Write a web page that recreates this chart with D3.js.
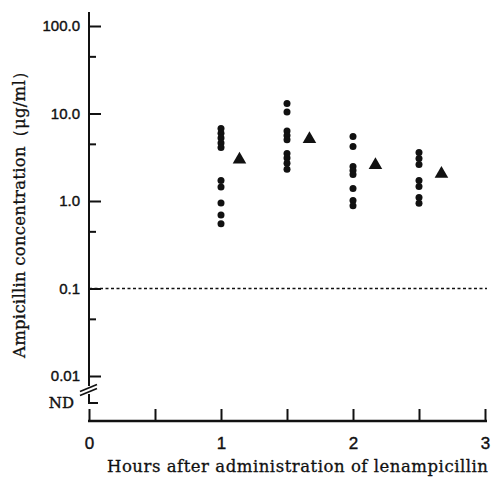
<!DOCTYPE html>
<html>
<head>
<meta charset="utf-8">
<script src="https://cdn.jsdelivr.net/npm/d3@7"></script>
<style>
  body { margin: 0; background: #fff; }
  svg { display: block; font-family: 'DejaVu Serif', 'Liberation Serif', serif; }
  .tick text { font-size: 15px; fill: #111; stroke: #111; stroke-width: 0.4; }
  .tick line { stroke: #111; stroke-width: 2; }
  .title { font-size: 16.5px; fill: #111; stroke: #111; stroke-width: 0.3; }
</style>
</head>
<body>
<div id="root"></div>
<script>
const sampleHours = [1, 1.5, 2, 2.5];
const concentrations = [
  [6.74, 5.94, 5.25, 4.61, 4.08, 1.72, 1.45, 0.95, 0.69, 0.55],
  [13.0, 10.4, 6.3, 5.6, 5.0, 3.5, 3.1, 2.7, 2.3],
  [5.46, 4.2, 2.48, 2.23, 2.01, 1.39, 1.01, 0.88],
  [3.58, 3.06, 2.61, 1.72, 1.46, 1.10, 0.94],
];
const meanHours = [1.14, 1.67, 2.17, 2.67];
const meanValues = [2.98, 5.1, 2.58, 2.04];

const yTickValues = [100, 10, 1, 0.1, 0.01];
const yTickLabels = ['100.0', '10.0', '1.0', '0.1', '0.01'];
const yMinorTicks = [45, 4.5, 0.45, 0.045];
const xTickValues = [0, 0.5, 1, 1.5, 2, 2.5, 3];
const detectionLimit = 0.1;
const ndLabel = 'ND';

const yTitle = 'Ampicillin concentration（μg/ml）';
const xTitle = 'Hours after administration of lenampicillin';

const svgWidth = 499;
const svgHeight = 490;
const axisX = 89;
const axisY = 421;

const xScale = d3.scaleLinear()
  .domain([0, 3])
  .range([axisX, 485]);

const yScale = d3.scaleLog()
  .domain([0.01, 100])
  .range([376, 26]);

const ndY = 403;

const points = [];
sampleHours.forEach((h, i) => {
  concentrations[i].forEach(v => points.push({ hour: h, value: v }));
});
const means = meanHours.map((h, i) => ({ hour: h, value: meanValues[i] }));

const svg = d3.select('#root').append('svg')
  .attr('width', svgWidth)
  .attr('height', svgHeight);

// y axis ticks (pointing inward), labels on the left
svg.append('g')
  .attr('transform', `translate(${axisX}, 0)`)
  .call(d3.axisLeft(yScale)
    .tickValues(yTickValues)
    .tickSizeInner(-12)
    .tickSizeOuter(0)
    .tickPadding(9)
    .tickFormat((d, i) => yTickLabels[i]))
  .call(g => g.select('.domain').remove());

svg.append('g')
  .attr('transform', `translate(${axisX}, 0)`)
  .call(d3.axisLeft(yScale)
    .tickValues(yMinorTicks)
    .tickSizeInner(-7)
    .tickSizeOuter(0)
    .tickFormat(''))
  .call(g => g.select('.domain').remove());

// ND tick below the break
const nd = svg.append('g').attr('class', 'tick');
nd.append('line')
  .attr('x1', axisX).attr('x2', axisX + 9)
  .attr('y1', ndY).attr('y2', ndY);
nd.append('text')
  .attr('x', axisX - 15)
  .attr('y', ndY)
  .attr('dy', '0.32em')
  .attr('text-anchor', 'end')
  .text(ndLabel);

// y axis line with break
const breakTop = 386;
const breakBottom = 394;
svg.append('line')
  .attr('x1', axisX).attr('x2', axisX)
  .attr('y1', 12).attr('y2', breakTop)
  .attr('stroke', '#111').attr('stroke-width', 2);
svg.append('line')
  .attr('x1', axisX).attr('x2', axisX)
  .attr('y1', breakBottom).attr('y2', ndY + 1)
  .attr('stroke', '#111').attr('stroke-width', 2);
[388, 392].forEach(cy => {
  svg.append('line')
    .attr('x1', axisX - 9).attr('y1', cy + 3.5)
    .attr('x2', axisX + 8).attr('y2', cy - 3.5)
    .attr('stroke', '#111').attr('stroke-width', 1.8);
});

// x axis
svg.append('g')
  .attr('transform', `translate(0, ${axisY})`)
  .call(d3.axisBottom(xScale)
    .tickValues(xTickValues)
    .tickSizeInner(-12)
    .tickSizeOuter(0)
    .tickPadding(16)
    .tickFormat(d => Number.isInteger(d) ? d : ''))
  .call(g => g.select('.domain').remove())
  .call(g => g.selectAll('.tick text').style('font-size', '17px'));

svg.append('line')
  .attr('x1', axisX - 1).attr('x2', 487)
  .attr('y1', axisY).attr('y2', axisY)
  .attr('stroke', '#111').attr('stroke-width', 2.5);

// detection limit
svg.append('line')
  .attr('x1', axisX).attr('x2', 487)
  .attr('y1', yScale(detectionLimit)).attr('y2', yScale(detectionLimit))
  .attr('stroke', '#111')
  .attr('stroke-width', 1.3)
  .attr('stroke-dasharray', '3,2.5');

// individual values
svg.append('g')
  .selectAll('circle')
  .data(points)
  .enter()
  .append('circle')
  .attr('cx', d => xScale(d.hour))
  .attr('cy', d => yScale(d.value))
  .attr('r', 3.5)
  .attr('fill', '#111');

// means
svg.append('g')
  .selectAll('path')
  .data(means)
  .enter()
  .append('path')
  .attr('d', d3.symbol(d3.symbolTriangle, 80))
  .attr('transform', d => `translate(${xScale(d.hour)}, ${yScale(d.value)})`)
  .attr('fill', '#111');

// titles
svg.append('text')
  .attr('class', 'title')
  .attr('transform', 'translate(25, 210.5) rotate(-90)')
  .attr('text-anchor', 'middle')
  .attr('textLength', 295)
  .attr('lengthAdjust', 'spacing')
  .text(yTitle);

svg.append('text')
  .attr('class', 'title')
  .attr('x', 297.5)
  .attr('y', 472)
  .attr('text-anchor', 'middle')
  .attr('textLength', 381)
  .attr('lengthAdjust', 'spacing')
  .text(xTitle);
</script>
</body>
</html>
